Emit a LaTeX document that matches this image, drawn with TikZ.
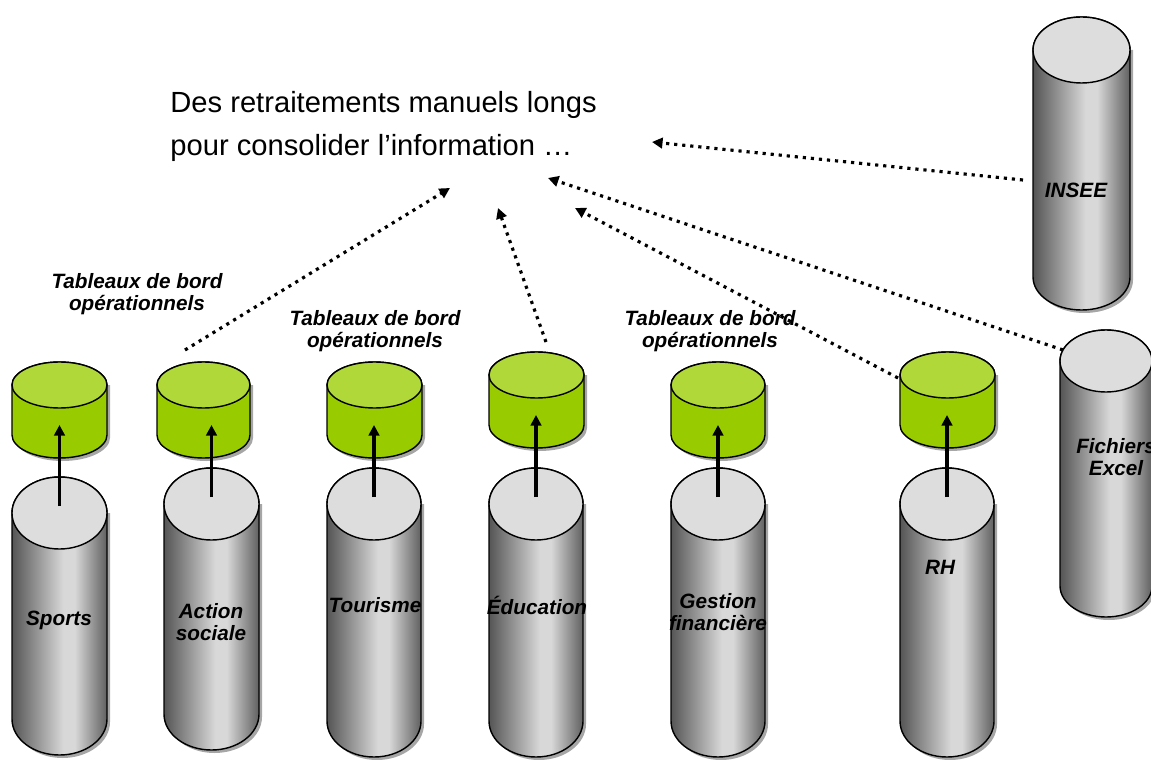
\documentclass[tikz,border=0pt]{standalone}
\usepackage{fontspec}
\setmainfont{Liberation Sans}
\usetikzlibrary{arrows.meta, calc}

\definecolor{dbgreen}{HTML}{99CC00}
\definecolor{dbgreentop}{HTML}{B0D838}
\definecolor{dbgreytop}{HTML}{DDDDDD}
\definecolor{dbdark}{HTML}{555555}
\definecolor{dbdarkr}{HTML}{606060}
\definecolor{dblight}{HTML}{D8D8D8}
\pgfdeclarehorizontalshading{dbgreyshade}{100bp}{color(0bp)=(dbdark); color(25bp)=(dbdark); color(52bp)=(dblight); color(58bp)=(dblight); color(75bp)=(dbdarkr); color(100bp)=(dbdarkr)}

% cylinder: name, x, top centre, bottom centre, x radius, y radius, body style, top style
\newcommand{\dbcyl}[8]{%
  \coordinate (#1-top) at (#2,#3);
  \coordinate (#1-bot) at (#2,#4);
  \fill[dbshadow] ({#2-#5+3},#3) -- ({#2-#5+3},{#4-3}) arc[start angle=180,end angle=360,x radius=#5,y radius=#6] -- ({#2+#5+3},#3) -- cycle;
  \draw[dbline,#7] ({#2-#5},#3) -- ({#2-#5},#4) arc[start angle=180,end angle=360,x radius=#5,y radius=#6] -- ({#2+#5},#3) arc[start angle=0,end angle=180,x radius=#5,y radius=#6] -- cycle;
  \draw[dbline,#8] (#1-top) ellipse[x radius=#5,y radius=#6];
}

\begin{document}
\begin{tikzpicture}[
    x=0.02cm, y=0.02cm,
    dbline/.style={draw=black, line width=0.8pt},
    dbshadow/.style={fill=black!35},
    greybody/.style={shading=dbgreyshade},
    greytop/.style={fill=dbgreytop},
    greenbody/.style={fill=dbgreen},
    greentop/.style={fill=dbgreentop},
    dblabel/.style={font=\bfseries\itshape\fontsize{11.8}{12.5}\selectfont, align=center, inner sep=0},
    loadarrow/.style={line width=1.8pt, -{Triangle[length=6pt,width=6pt]}},
    feedline/.style={line width=1.8pt, dash pattern=on 1.8pt off 2.8pt, -{Triangle[length=6pt,width=6pt]}}
]
\useasboundingbox (0,0) rectangle (1151,761);

% Source systems
\foreach \n/\x/\t/\b/\rx/\ry in {sports/59.5/248/42/47.5/36, action/211.5/257/47/47.5/36,
    tourisme/374/257/40/47/36, education/536/257/40/47/36, gestion/718/257/40/47/36,
    rh/947/257/40/47/36, insee/1081.5/711/484/48.5/33, excel/1106/400/175/46/31}
    \dbcyl{\n}{\x}{\t}{\b}{\rx}{\ry}{greybody}{greytop};

% Dashboards
\foreach \n/\x/\t/\b/\rx in {sports/59.5/376/326/47.5, action/203.5/376/326/46.5,
    tourisme/374.5/376/326/47.5, education/536.5/386/336/47.5, gestion/718/376/326/47,
    rh/947.5/386/336/47.5}
    \dbcyl{tb-\n}{\x}{\t}{\b}{\rx}{23}{greenbody}{greentop};

% Labels
\node[dblabel] (l-sports) at (59,141) {Sports};
\node[dblabel] (l-action) at (211,139) {Action\\sociale};
\node[dblabel] (l-tourisme) at (375,156) {Tourisme};
\node[dblabel] (l-education) at (537,156) {Éducation};
\node[dblabel] (l-gestion) at (718,149) {Gestion\\financière};
\node[dblabel] (l-rh) at (940,194) {RH};
\node[dblabel] (l-insee) at (1076,571) {INSEE};
\node[dblabel] (l-excel) at (1116,304) {Fichiers\\Excel};

\node[dblabel] (tb1) at (137,467) {Tableaux de bord\\opérationnels};
\node[dblabel] (tb2) at (375,430) {Tableaux de bord\\opérationnels};
\node[dblabel] (tb3) at (710,430) {Tableaux de bord\\opérationnels};

% Feeding the dashboards
\foreach \n in {sports,action,tourisme,education,gestion,rh}
    \draw[loadarrow] ($(\n-top)+(0,7)$) -- ($(\n-top |- tb-\n-bot)+(0,10)$);

% Manual consolidation
\node[anchor=west, align=left, inner sep=0, font=\fontsize{16.6}{24.5}\selectfont] (msg) at (170,635)
    {Des retraitements manuels longs\\pour consolider l’information …};
\coordinate (in1) at (450,573);
\coordinate (in2) at (498,553);
\coordinate (in3) at (548,583);
\coordinate (in4) at (575,553);
\coordinate (in5) at (652,619);
\draw[feedline] ($(tb-action-top)+(-18.5,35)$) -- (in1);
\draw[feedline] ($(tb-education-top)+(9.5,33)$) -- (in2);
\draw[feedline] ($(excel-top)+(-43,11)$) -- (in3);
\draw[feedline] ($(tb-rh-top)+(-49.5,-3)$) -- (in4);
\draw[feedline] ($(insee-top)+(-58.5,-130)$) -- (in5);
\end{tikzpicture}
\end{document}
